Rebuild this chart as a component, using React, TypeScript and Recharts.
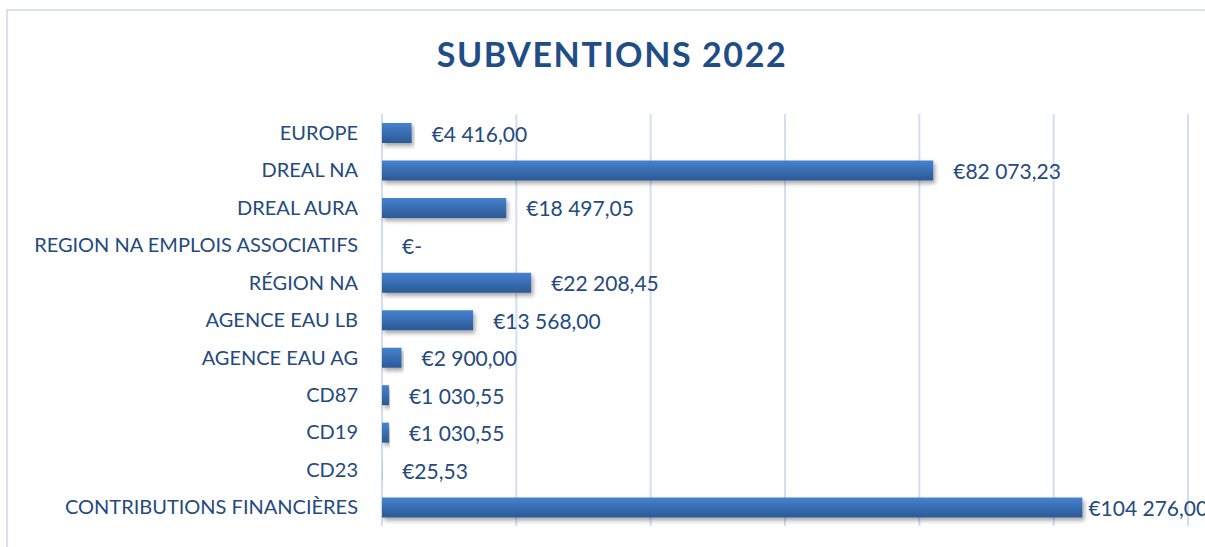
import { BarChart, Bar, XAxis, YAxis, CartesianGrid, LabelList } from "recharts";

const categories = [
  "EUROPE",
  "DREAL NA",
  "DREAL AURA",
  "REGION NA EMPLOIS ASSOCIATIFS",
  "RÉGION NA",
  "AGENCE EAU LB",
  "AGENCE EAU AG",
  "CD87",
  "CD19",
  "CD23",
  "CONTRIBUTIONS FINANCIÈRES",
];
const amounts = [4416, 82073.23, 18497.05, 0, 22208.45, 13568, 2900, 1030.55, 1030.55, 25.53, 104276];
const xTicks = [0, 20000, 40000, 60000, 80000, 100000, 120000];
const xMax = 120000;

const data = categories.map((name, i) => ({ name, value: amounts[i] }));

const textColor = "#244a7e";
const font = "Lato, 'Open Sans', sans-serif";

function formatEuro(v: number) {
  if (!v) return "€-";
  const [int, dec] = v.toFixed(2).split(".");
  const grouped = int.replace(/\B(?=(\d{3})+(?!\d))/g, " ");
  return `€${grouped},${dec}`;
}

function ValueLabel(props: any) {
  const { x, y, width, height, value } = props;
  const end = x + width;
  const offset = end > 1050 ? 6 : 20;
  return (
    <text
      x={end + offset}
      y={y + height / 2}
      dominantBaseline="central"
      fill={textColor}
      fontSize={21}
      fontFamily={font}
    >
      {formatEuro(value)}
    </text>
  );
}

// vertical gridlines at each 20 000 step, using the chart's own x scale
function gridX(props: any) {
  const { xAxis, offset } = props;
  if (xAxis && typeof xAxis.scale === "function") return xTicks.map((t) => xAxis.scale(t));
  return xTicks.map((t) => offset.left + (t / xMax) * offset.width);
}

export default function App() {
  return (
    <div style={{ position: "absolute", left: 0, top: 0, width: 1205, height: 547, background: "#fff", overflow: "hidden" }}>
      <div
        style={{
          position: "absolute",
          left: 6,
          top: 9,
          width: 1220,
          height: 560,
          border: "2px solid #d6e2f2",
        }}
      />
      <div
        style={{
          position: "absolute",
          left: 0,
          top: 32,
          width: 1224,
          textAlign: "center",
          fontFamily: font,
          fontWeight: 700,
          fontSize: 34,
          letterSpacing: 1.6,
          color: "#1f4d86",
          lineHeight: "44px",
        }}
      >
        SUBVENTIONS 2022
      </div>
      <div style={{ position: "absolute", left: 0, top: 0 }}>
        <BarChart
          width={1205}
          height={547}
          data={data}
          layout="vertical"
          margin={{ top: 114, right: 17, bottom: 21, left: 0 }}
          barSize={20}
        >
          <defs>
            <linearGradient id="barFill" x1="0" y1="0" x2="0" y2="1">
              <stop offset="0%" stopColor="#4782d0" />
              <stop offset="100%" stopColor="#2b5995" />
            </linearGradient>
            <filter id="barShadow" x="-5%" y="-30%" width="115%" height="190%">
              <feDropShadow dx="2" dy="3" stdDeviation="2" floodColor="#000" floodOpacity="0.35" />
            </filter>
          </defs>
          <CartesianGrid
            horizontal={false}
            stroke="#d3dff0"
            strokeWidth={2}
            verticalCoordinatesGenerator={gridX}
          />
          <XAxis
            type="number"
            domain={[0, xMax]}
            ticks={xTicks}
            tick={false}
            axisLine={false}
            tickLine={false}
            height={0}
          />
          <YAxis
            type="category"
            dataKey="name"
            width={382}
            axisLine={false}
            tickLine={false}
            tickSize={0}
            tickMargin={24}
            interval={0}
            tick={{ fill: textColor, fontSize: 20, fontFamily: font }}
          />
          <Bar
            dataKey="value"
            fill="url(#barFill)"
            filter="url(#barShadow)"
            minPointSize={0.01}
            isAnimationActive={false}
          >
            <LabelList dataKey="value" content={ValueLabel} />
          </Bar>
        </BarChart>
      </div>
    </div>
  );
}
